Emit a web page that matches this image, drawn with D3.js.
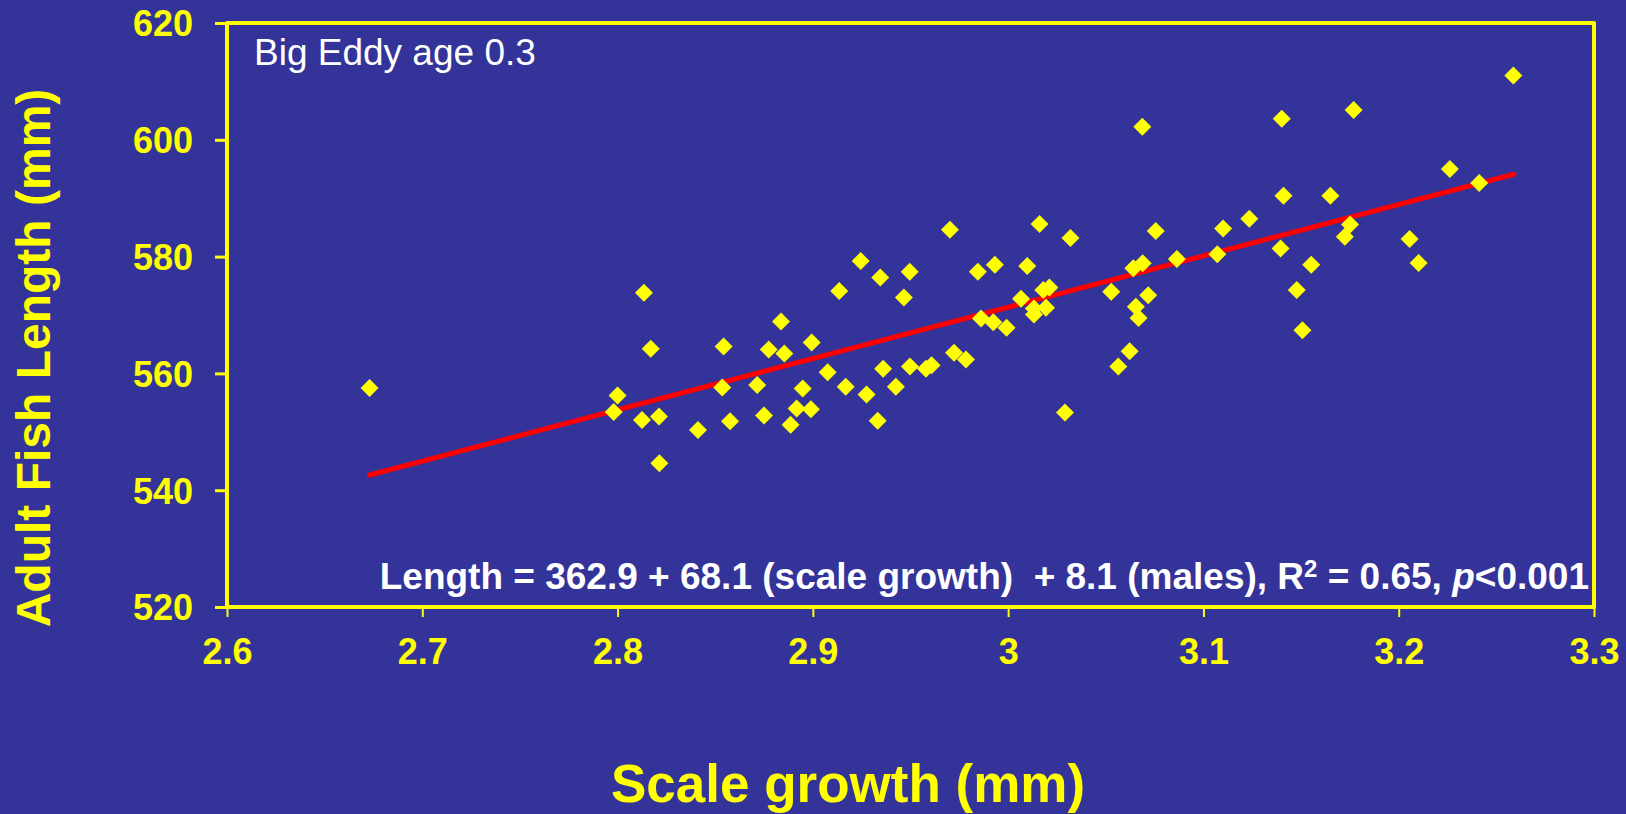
<!DOCTYPE html>
<html>
<head>
<meta charset="utf-8">
<script src="https://cdn.jsdelivr.net/npm/d3@7"></script>
<style>
  html, body { margin: 0; padding: 0; background: #333399; }
  svg { display: block; }
  text { font-family: "Liberation Sans", Arial, sans-serif; }
</style>
</head>
<body>
<svg id="chart" width="1626" height="814"></svg>
<script>
// Scale growth (mm) of each fish
const scaleGrowth = [
  2.673, 2.8135, 2.817, 2.800, 2.798, 2.8125, 2.8212, 2.8214, 2.8412, 2.8543,
  2.8536, 2.8576, 2.8837, 2.8774, 2.8854, 2.8715, 2.875, 2.8886, 2.8917, 2.8994,
  2.9076, 2.8948, 2.9168, 2.9275, 2.899, 2.9332, 2.9135, 2.9245, 2.9345, 2.9496,
  2.9466, 2.936, 2.9425, 2.9497, 2.9579, 2.9608, 2.9702, 2.9723, 2.9784, 2.9845,
  2.9932, 2.9861, 2.9924, 2.9992, 3.0066, 3.0098, 3.0161, 3.0211, 3.018, 3.0132,
  3.0194, 3.0132, 3.0319, 3.0291, 3.0528, 3.0564, 3.0622, 3.0641, 3.0689, 3.0654,
  3.0668, 3.0717, 3.0756, 3.0864, 3.1071, 3.1101, 3.0687, 3.1401, 3.1769, 3.2587,
  3.2262, 3.2412, 3.141, 3.165, 3.1235, 3.1751, 3.1724, 3.2056, 3.2102, 3.1395,
  3.1552, 3.1478, 3.1507
];
// Adult fish length (mm), same order
const fishLength = [
  557.5, 573.8, 564.2, 556.2, 553.4, 552.0, 552.6, 544.6, 550.3, 564.6,
  557.6, 551.8, 568.9, 564.1, 563.4, 558.0, 552.8, 551.2, 554.0, 565.3,
  560.2, 557.4, 557.7, 556.4, 553.85, 551.9, 574.1, 579.25, 576.4, 577.4,
  573.0, 560.8, 557.7, 561.2, 560.8, 561.4, 584.6, 563.55, 562.4, 577.4,
  578.6, 569.4, 568.75, 567.8, 572.8, 578.4, 585.6, 574.7, 574.3, 571.1,
  571.25, 570.1, 583.2, 553.3, 574.0, 561.2, 563.8, 578.0, 578.85, 571.4,
  569.5, 573.4, 584.4, 579.6, 580.4, 584.8, 602.25, 603.6, 605.1, 611.0,
  595.0, 592.6, 590.4, 590.4, 586.5, 585.5, 583.4, 583.0, 578.9, 581.4,
  578.6, 574.3, 567.4
];
// Fitted line end points
const fitGrowth = [2.673, 3.259];
const fitLength = [542.6, 594.1];

const xTicks = [2.6, 2.7, 2.8, 2.9, 3, 3.1, 3.2, 3.3];
const yTicks = [520, 540, 560, 580, 600, 620];

const YELLOW = "#FFFF00";
const svg = d3.select("#chart");

const plot = { left: 227, top: 23, right: 1594, bottom: 607 };

const x = d3.scaleLinear().domain([2.6, 3.3]).range([plot.left, plot.right]);
const y = d3.scaleLinear().domain([520, 620]).range([plot.bottom, plot.top]);

// background
svg.append("rect").attr("width", 1626).attr("height", 814).attr("fill", "#333399");

// y axis ticks and labels
const gy = svg.append("g")
  .attr("transform", `translate(${plot.left},0)`)
  .call(d3.axisLeft(y).tickValues(yTicks).tickSize(12).tickSizeOuter(0)
    .tickPadding(22).tickFormat(d => String(d)));
gy.select(".domain").remove();
gy.selectAll(".tick line").attr("stroke", YELLOW).attr("stroke-width", 3);
gy.selectAll(".tick text")
  .attr("fill", YELLOW).attr("font-size", 36).attr("font-weight", "bold")
  .attr("dy", "0.36em")
  .style("font-family", '"Liberation Sans", Arial, sans-serif');

// x axis ticks and labels
const gx = svg.append("g")
  .attr("transform", `translate(0,${plot.bottom})`)
  .call(d3.axisBottom(x).tickValues(xTicks).tickSize(10).tickSizeOuter(0)
    .tickPadding(21).tickFormat(d => String(d)));
gx.select(".domain").remove();
gx.selectAll(".tick line").attr("stroke", YELLOW).attr("stroke-width", 2);
gx.selectAll(".tick text")
  .attr("fill", YELLOW).attr("font-size", 36).attr("font-weight", "bold")
  .style("font-family", '"Liberation Sans", Arial, sans-serif');

// plot frame
svg.append("rect")
  .attr("x", plot.left).attr("y", plot.top)
  .attr("width", plot.right - plot.left).attr("height", plot.bottom - plot.top)
  .attr("fill", "none").attr("stroke", YELLOW).attr("stroke-width", 4)
  .attr("stroke-linejoin", "round");

// fitted line
const fit = fitGrowth.map((g, i) => [g, fitLength[i]]);
svg.append("path")
  .datum(fit)
  .attr("d", d3.line().x(d => x(d[0])).y(d => y(d[1])))
  .attr("fill", "none").attr("stroke", "#FF0000").attr("stroke-width", 5)
  .attr("stroke-linecap", "round");

// data points as diamonds
const diamond = d3.symbol().type(d3.symbolSquare).size(162);
svg.append("g").selectAll("path")
  .data(scaleGrowth.map((g, i) => [g, fishLength[i]]))
  .join("path")
  .attr("d", diamond)
  .attr("transform", d => `translate(${x(d[0])},${y(d[1])}) rotate(45)`)
  .attr("fill", YELLOW);

// panel label
svg.append("text")
  .attr("x", 254).attr("y", 65)
  .attr("font-size", 37).attr("fill", "#FFFFFF")
  .text("Big Eddy age 0.3");

// regression equation
const eq = svg.append("text")
  .attr("x", 1589).attr("y", 589)
  .attr("text-anchor", "end")
  .attr("font-size", 37).attr("font-weight", "bold").attr("fill", "#FFFFFF")
  .style("white-space", "pre");
eq.append("tspan").text("Length = 362.9 + 68.1 (scale growth)  + 8.1 (males), R");
eq.append("tspan").attr("font-size", 24).attr("dy", -12).text("2");
eq.append("tspan").attr("dy", 12).text(" = 0.65, ");
eq.append("tspan").attr("font-style", "italic").text("p");
eq.append("tspan").text("<0.001");

// axis titles
svg.append("text")
  .attr("x", 848).attr("y", 802)
  .attr("text-anchor", "middle")
  .attr("font-size", 53).attr("font-weight", "bold").attr("fill", YELLOW)
  .text("Scale growth (mm)");

svg.append("text")
  .attr("transform", "translate(50,358) rotate(-90)")
  .attr("text-anchor", "middle")
  .attr("font-size", 48).attr("font-weight", "bold").attr("fill", YELLOW)
  .text("Adult Fish Length (mm)");
</script>
</body>
</html>
